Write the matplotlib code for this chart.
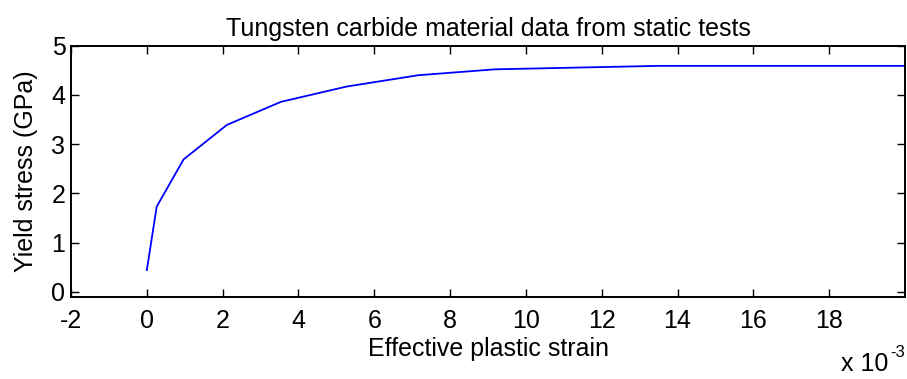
import matplotlib
matplotlib.use("Agg")
import matplotlib.pyplot as plt
from matplotlib.ticker import FuncFormatter

plt.rcParams['font.family'] = ['Liberation Sans', 'DejaVu Sans']

# Effective plastic strain (absolute) and yield stress (GPa)
strain = [0.0, 0.00026, 0.00097, 0.00211, 0.00354, 0.00527, 0.00716, 0.00918, 0.01348, 0.0200]
stress = [0.44, 1.73, 2.69, 3.39, 3.86, 4.17, 4.40, 4.52, 4.59, 4.59]

xticks = [-0.002, 0.0, 0.002, 0.004, 0.006, 0.008, 0.010, 0.012, 0.014, 0.016, 0.018]
yticks = [0, 1, 2, 3, 4, 5]

FS = 18

fig = plt.figure(figsize=(9.07, 3.79), dpi=100)
ax = fig.add_axes([0.0783, 0.2172, 0.9195, 0.6622])

ax.plot(strain, stress, color='#0000ff', linewidth=1.3)

ax.set_xlim(-0.002, 0.020)
ax.set_ylim(-0.1, 5.0)
ax.set_xticks(xticks)
ax.set_yticks(yticks)
ax.xaxis.set_major_formatter(FuncFormatter(lambda v, p: f"{v*1e3:.0f}"))

ax.tick_params(direction='in', length=6, width=1.0, top=True, right=True,
               labelsize=FS, colors='black')
ax.tick_params(axis='x', pad=9)
ax.tick_params(axis='y', pad=4)
for s in ax.spines.values():
    s.set_linewidth(1.4)

ax.set_title("Tungsten carbide material data from static tests", fontsize=FS, pad=7)
ax.set_xlabel("Effective plastic strain", fontsize=FS, labelpad=3)
ax.set_ylabel("Yield stress (GPa)", fontsize=FS, labelpad=10)

fig.text(0.953, 0.020, "x 10", fontsize=FS, ha='center', va='baseline')
fig.text(0.990, 0.058, "-3", fontsize=12, ha='center', va='baseline')

fig.savefig("out.png", dpi=100)
